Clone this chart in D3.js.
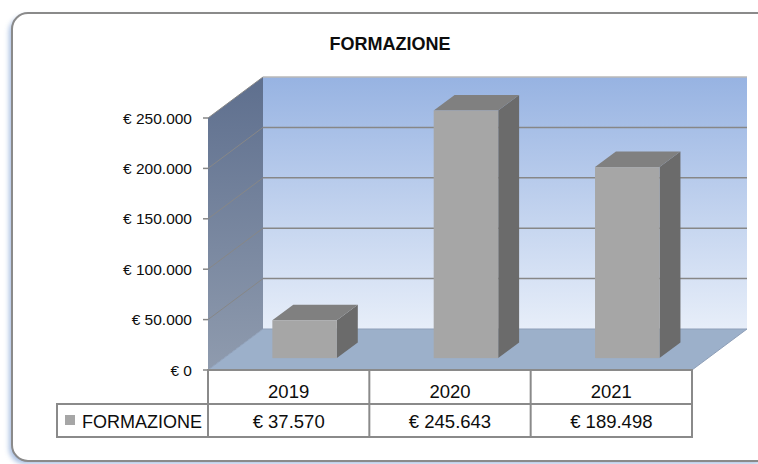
<!DOCTYPE html>
<html>
<head>
<meta charset="utf-8">
<script src="https://cdn.jsdelivr.net/npm/d3@7"></script>
<style>
    body { margin: 0; background: #fff; }
    svg { display: block; font-family: "Liberation Sans", Arial, sans-serif; }
</style>
</head>
<body>
<svg id="chart"></svg>
<script>
// data
const chartTitle = 'FORMAZIONE';
const seriesName = 'FORMAZIONE';
const categories = ['2019', '2020', '2021'];
const values = [37570, 245643, 189498];
const tickValues = [0, 50000, 100000, 150000, 200000, 250000];

let width = 758, height = 464;

let svg = d3.select('#chart')
    .attr('width', width)
    .attr('height', height);

// italian euro format: "€ 37.570"
let itLocale = d3.formatLocale({ decimal: ',', thousands: '.', grouping: [3], currency: ['€ ', ''] });
let euro = itLocale.format('$,.0f');

// front plane scales, depth offset for the 3d look
let x = d3.scaleBand().domain(categories).range([208, 692]);
let y = d3.scaleLinear().domain([0, 250000]).range([370, 118]);
let depthX = 55, depthY = 41;
function px(xv, z) { return xv + z * depthX; }
function py(yv, z) { return yv - z * depthY; }

let defs = svg.append('defs');

let backGrad = defs.append('linearGradient').attr('id', 'backGrad')
    .attr('x1', 0).attr('y1', 0).attr('x2', 0).attr('y2', 1);
backGrad.append('stop').attr('offset', '0%').attr('stop-color', '#97b3e2');
backGrad.append('stop').attr('offset', '100%').attr('stop-color', '#e7eef9');

let sideGrad = defs.append('linearGradient').attr('id', 'sideGrad')
    .attr('x1', 0).attr('y1', 0).attr('x2', 0).attr('y2', 1);
sideGrad.append('stop').attr('offset', '0%').attr('stop-color', '#5e6f8e');
sideGrad.append('stop').attr('offset', '100%').attr('stop-color', '#8f9bae');

let shadow = defs.append('filter').attr('id', 'shadow')
    .attr('x', '-10%').attr('y', '-10%').attr('width', '120%').attr('height', '120%');
shadow.append('feGaussianBlur').attr('stdDeviation', 2.5);

// outer frame
svg.append('rect')
    .attr('x', 9).attr('y', 16)
    .attr('width', 760).attr('height', 448)
    .attr('rx', 16)
    .attr('fill', '#6f95cf')
    .attr('opacity', 0.6)
    .attr('filter', 'url(#shadow)');

svg.append('rect')
    .attr('x', 12).attr('y', 13)
    .attr('width', 760).attr('height', 448)
    .attr('rx', 16)
    .attr('fill', '#fff')
    .attr('stroke', '#8a8a8a')
    .attr('stroke-width', 2);

svg.append('text')
    .attr('x', 390)
    .attr('y', 50)
    .attr('text-anchor', 'middle')
    .attr('font-weight', 'bold')
    .attr('font-size', '18px')
    .attr('fill', '#0d0d0d')
    .text(chartTitle);

let y0 = y(0), yTop = y(tickValues[tickValues.length - 1]);
let xL = x.range()[0], xR = x.range()[1];

// back wall
svg.append('rect')
    .attr('x', px(xL, 1))
    .attr('y', py(yTop, 1))
    .attr('width', xR - xL)
    .attr('height', y0 - yTop)
    .attr('fill', 'url(#backGrad)');

// left wall
svg.append('polygon')
    .attr('points', [[px(xL, 0), py(yTop, 0)], [px(xL, 1), py(yTop, 1)], [px(xL, 1), py(y0, 1)], [px(xL, 0), py(y0, 0)]].join(' '))
    .attr('fill', 'url(#sideGrad)');

// floor
svg.append('polygon')
    .attr('points', [[px(xL, 0), py(y0, 0)], [px(xR, 0), py(y0, 0)], [px(xR, 1), py(y0, 1)], [px(xL, 1), py(y0, 1)]].join(' '))
    .attr('fill', '#9cb0ca')
    .attr('stroke', '#8e9fb8')
    .attr('stroke-width', 1);

// gridlines on walls
let grid = svg.append('g').attr('stroke', '#878787').attr('stroke-width', 1.5).attr('fill', 'none');
tickValues.filter(t => t > 0).forEach(function (t) {
    grid.append('line')
        .attr('x1', px(xL, 0)).attr('y1', py(y(t), 0))
        .attr('x2', px(xL, 1)).attr('y2', py(y(t), 1))
        .attr('stroke-width', 1);
    grid.append('line')
        .attr('x1', px(xL, 1)).attr('y1', py(y(t), 1))
        .attr('x2', px(xR, 1)).attr('y2', py(y(t), 1))
        .attr('stroke', t == tickValues[tickValues.length - 1] ? '#b8b8b8' : '#878787');
});

// bars
let zFront = 0.29, zBack = 0.67;
let bw = x.bandwidth() * 0.4;
let bars = svg.selectAll('.bar')
    .data(categories.map((c, i) => [c, values[i]]))
    .enter().append('g')
    .attr('class', 'bar');

bars.append('polygon')
    .attr('fill', '#6b6b6b')
    .attr('points', function (d) {
        let xr = x(d[0]) + (x.bandwidth() + bw) / 2;
        return [[px(xr, zFront), py(y(d[1]), zFront)], [px(xr, zBack), py(y(d[1]), zBack)],
            [px(xr, zBack), py(y0, zBack)], [px(xr, zFront), py(y0, zFront)]].join(' ');
    });

bars.append('polygon')
    .attr('fill', '#808080')
    .attr('points', function (d) {
        let xl = x(d[0]) + (x.bandwidth() - bw) / 2, xr = xl + bw;
        return [[px(xl, zFront), py(y(d[1]), zFront)], [px(xl, zBack), py(y(d[1]), zBack)],
            [px(xr, zBack), py(y(d[1]), zBack)], [px(xr, zFront), py(y(d[1]), zFront)]].join(' ');
    });

bars.append('rect')
    .attr('fill', '#a6a6a6')
    .attr('x', d => px(x(d[0]) + (x.bandwidth() - bw) / 2, zFront))
    .attr('y', d => py(y(d[1]), zFront))
    .attr('width', bw)
    .attr('height', d => y0 - y(d[1]));

// y axis ticks and labels
let axis = svg.append('g');
axis.selectAll('line')
    .data(tickValues)
    .enter().append('line')
    .attr('x1', xL - 5).attr('x2', xL)
    .attr('y1', d => y(d)).attr('y2', d => y(d))
    .attr('stroke', '#868686')
    .attr('stroke-width', 1.5);
axis.selectAll('text')
    .data(tickValues)
    .enter().append('text')
    .attr('x', 192)
    .attr('y', d => y(d) + 5.5)
    .attr('text-anchor', 'end')
    .attr('font-size', '15.5px')
    .attr('fill', '#0d0d0d')
    .text(d => euro(d));

// data table
let rowTop = 370, rowMid = 404, rowBot = 437, legendLeft = 57;
let table = svg.append('g').attr('stroke', '#8a8a8a').attr('stroke-width', 2).attr('fill', 'none');
table.append('rect').attr('x', xL).attr('y', rowTop).attr('width', xR - xL).attr('height', rowMid - rowTop).attr('fill', '#fff');
table.append('rect').attr('x', legendLeft).attr('y', rowMid).attr('width', xR - legendLeft).attr('height', rowBot - rowMid).attr('fill', '#fff');
categories.slice(1).forEach(function (c) {
    table.append('line').attr('x1', x(c)).attr('x2', x(c)).attr('y1', rowTop).attr('y2', rowBot);
});
table.append('line').attr('x1', xL).attr('x2', xL).attr('y1', rowTop).attr('y2', rowBot);

svg.selectAll('.cat')
    .data(categories)
    .enter().append('text')
    .attr('class', 'cat')
    .attr('x', d => x(d) + x.bandwidth() / 2)
    .attr('y', 398)
    .attr('text-anchor', 'middle')
    .attr('font-size', '18.5px')
    .attr('fill', '#0d0d0d')
    .text(d => d);

svg.selectAll('.val')
    .data(values)
    .enter().append('text')
    .attr('class', 'val')
    .attr('x', (d, i) => x(categories[i]) + x.bandwidth() / 2)
    .attr('y', 428)
    .attr('text-anchor', 'middle')
    .attr('font-size', '18.5px')
    .attr('fill', '#0d0d0d')
    .text(d => euro(d));

svg.append('rect')
    .attr('x', 65).attr('y', 415)
    .attr('width', 10).attr('height', 10)
    .attr('fill', '#a6a6a6');

svg.append('text')
    .attr('x', 82)
    .attr('y', 428)
    .attr('font-size', '18px')
    .attr('fill', '#0d0d0d')
    .text(seriesName);
</script>
</body>
</html>
